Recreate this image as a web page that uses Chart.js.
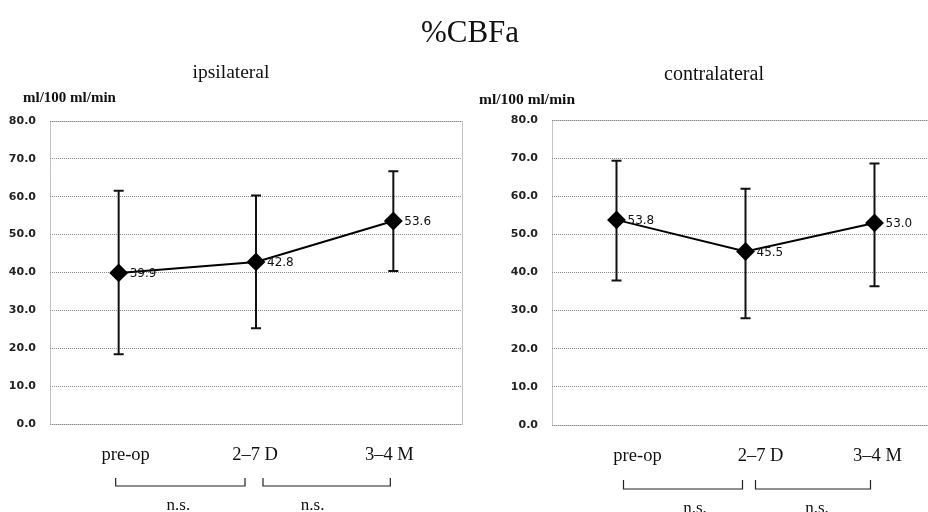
<!DOCTYPE html>
<html>
<head>
<meta charset="utf-8">
<script src="https://cdn.jsdelivr.net/npm/chart.js@4.4.1/dist/chart.umd.min.js"></script>
<style>
    html, body { margin: 0; padding: 0; background: #fff; overflow: hidden; }
    #page { position: relative; width: 928px; height: 512px; overflow: hidden; font-family: 'Liberation Serif', serif; color: #111; }
    .txt { position: absolute; white-space: nowrap; line-height: 1; transform: translate(-50%, -50%); }
    .unit { position: absolute; white-space: nowrap; line-height: 1; font-size: 15px; font-weight: bold; transform: translateY(-50%); }
    canvas { position: absolute; top: 0; }
</style>
</head>
<body>
<div id="page">
    <canvas id="ipsiChart" width="472" height="512" style="left:0"></canvas>
    <canvas id="contraChart" width="485" height="512" style="left:464px"></canvas>
    <div class="txt" style="left:470px; top:31px; font-size:31px;">%CBFa</div>
    <div class="txt" style="left:231px; top:72px; font-size:19.5px;">ipsilateral</div>
    <div class="txt" style="left:714px; top:73px; font-size:20px;">contralateral</div>
    <div class="unit" style="left:23px; top:97px;">ml/100 ml/min</div>
    <div class="unit" style="left:479px; top:99px; font-size:15.5px;">ml/100 ml/min</div>
</div>
<script>
const categories = ['pre-op', '2\u20137 D', '3\u20134 M'];
const yTicks = [0, 10, 20, 30, 40, 50, 60, 70, 80];

const ipsiMean = [39.9, 42.8, 53.6];
const ipsiHigh = [61.6, 60.3, 66.7];
const ipsiLow = [18.4, 25.3, 40.4];

const contraMean = [53.8, 45.5, 53.0];
const contraHigh = [69.3, 62.0, 68.6];
const contraLow = [37.9, 28.0, 36.4];

const sigLabels = ['n.s.', 'n.s.'];

const extras = {
    id: 'extras',
    beforeDatasetsDraw(chart, args, opts) {
        const ctx = chart.ctx;
        const a = chart.chartArea;
        const x = chart.scales.x;
        const y = chart.scales.y;
        // dotted frame
        ctx.save();
        ctx.strokeStyle = '#8a8a8a';
        ctx.lineWidth = 1;
        ctx.setLineDash([1, 1]);
        ctx.strokeRect(Math.round(a.left) + 0.5, Math.round(a.top) + 0.5, Math.round(a.width), Math.round(a.height));
        ctx.restore();
        // error bars
        ctx.save();
        ctx.strokeStyle = '#111';
        ctx.lineWidth = 2;
        opts.high.forEach((hi, i) => {
            const px = x.getPixelForValue(i);
            const yh = y.getPixelForValue(hi);
            const yl = y.getPixelForValue(opts.low[i]);
            ctx.beginPath();
            ctx.moveTo(px, yh);
            ctx.lineTo(px, yl);
            ctx.moveTo(px - 5, yh);
            ctx.lineTo(px + 5, yh);
            ctx.moveTo(px - 5, yl);
            ctx.lineTo(px + 5, yl);
            ctx.stroke();
        });
        ctx.restore();
    },
    afterDatasetsDraw(chart, args, opts) {
        const ctx = chart.ctx;
        const a = chart.chartArea;
        const x = chart.scales.x;
        const y = chart.scales.y;
        const data = chart.data.datasets[0].data;
        // value labels
        ctx.save();
        ctx.fillStyle = '#111';
        ctx.font = '12px "DejaVu Sans", sans-serif';
        ctx.textBaseline = 'middle';
        ctx.textAlign = 'left';
        data.forEach((v, i) => {
            ctx.fillText(v.toFixed(1), x.getPixelForValue(i) + 11, y.getPixelForValue(v) + 1);
        });
        ctx.restore();
        // category labels (set a little off their ticks, as in the original)
        ctx.save();
        ctx.fillStyle = '#111';
        ctx.font = '18.5px "Liberation Serif", serif';
        ctx.textAlign = 'center';
        ctx.textBaseline = 'middle';
        chart.data.labels.forEach((lab, i) => {
            ctx.fillText(lab, x.getPixelForValue(i) + opts.labelShift[i], a.bottom + 31);
        });
        ctx.restore();
        // significance brackets
        ctx.save();
        ctx.strokeStyle = '#222';
        ctx.lineWidth = 1.2;
        ctx.fillStyle = '#111';
        ctx.font = '17px "Liberation Serif", serif';
        ctx.textAlign = 'center';
        ctx.textBaseline = 'alphabetic';
        opts.sig.forEach((label, i) => {
            const x1 = x.getPixelForValue(i) + opts.gaps[i][0];
            const x2 = x.getPixelForValue(i + 1) + opts.gaps[i][1];
            ctx.beginPath();
            ctx.moveTo(x1, opts.bracketTop);
            ctx.lineTo(x1, opts.bracketBottom);
            ctx.lineTo(x2, opts.bracketBottom);
            ctx.lineTo(x2, opts.bracketTop);
            ctx.stroke();
            ctx.fillText(label, (x1 + x2) / 2 + opts.sigShift[i], opts.labelY);
        });
        ctx.restore();
    }
};

function makeChart(id, mean, high, low, cfg) {
    return new Chart(document.getElementById(id), {
        type: 'line',
        data: {
            labels: categories,
            datasets: [{
                data: mean,
                borderColor: '#000',
                borderWidth: 2,
                pointStyle: 'rectRot',
                pointRadius: 8,
                pointBackgroundColor: '#000',
                pointBorderColor: '#000',
                tension: 0
            }]
        },
        options: {
            responsive: false,
            animation: false,
            layout: { padding: { top: cfg.top, right: 0, left: 0, bottom: 0 } },
            plugins: {
                legend: { display: false },
                tooltip: { enabled: false },
                extras: {
                    high: high,
                    low: low,
                    sig: sigLabels,
                    gaps: cfg.gaps,
                    sigShift: cfg.sigShift,
                    labelShift: cfg.labelShift,
                    bracketTop: cfg.bracketTop,
                    bracketBottom: cfg.bracketBottom,
                    labelY: cfg.labelY
                }
            },
            scales: {
                x: {
                    offset: true,
                    grid: { display: false, drawTicks: false },
                    border: { display: false },
                    ticks: { display: false },
                    afterFit: s => { s.height = cfg.xHeight; }
                },
                y: {
                    min: yTicks[0],
                    max: yTicks[yTicks.length - 1],
                    afterBuildTicks: s => { s.ticks = yTicks.map(v => ({ value: v })); },
                    grid: { color: '#8a8a8a', lineWidth: 1, drawTicks: false },
                    border: { display: false, dash: [1, 1] },
                    ticks: {
                        padding: 14,
                        color: '#222',
                        font: { family: '"DejaVu Sans", sans-serif', size: 11, weight: 'bold' },
                        callback: v => Number(v).toFixed(1)
                    },
                    afterFit: s => { s.width = cfg.yWidth; }
                }
            }
        },
        plugins: [extras]
    });
}

makeChart('ipsiChart', ipsiMean, ipsiHigh, ipsiLow, {
    top: 121, yWidth: 50, xHeight: 88,
    labelShift: [7, -1, -4],
    gaps: [[-3, -11], [7, -3]],
    sigShift: [-2, -14],
    bracketTop: 478, bracketBottom: 486, labelY: 510
});

makeChart('contraChart', contraMean, contraHigh, contraLow, {
    top: 120, yWidth: 88, xHeight: 87,
    labelShift: [21, 15, 3],
    gaps: [[7, -3], [10, -4]],
    sigShift: [12, 4],
    bracketTop: 480, bracketBottom: 489, labelY: 513
});
</script>
</body>
</html>
